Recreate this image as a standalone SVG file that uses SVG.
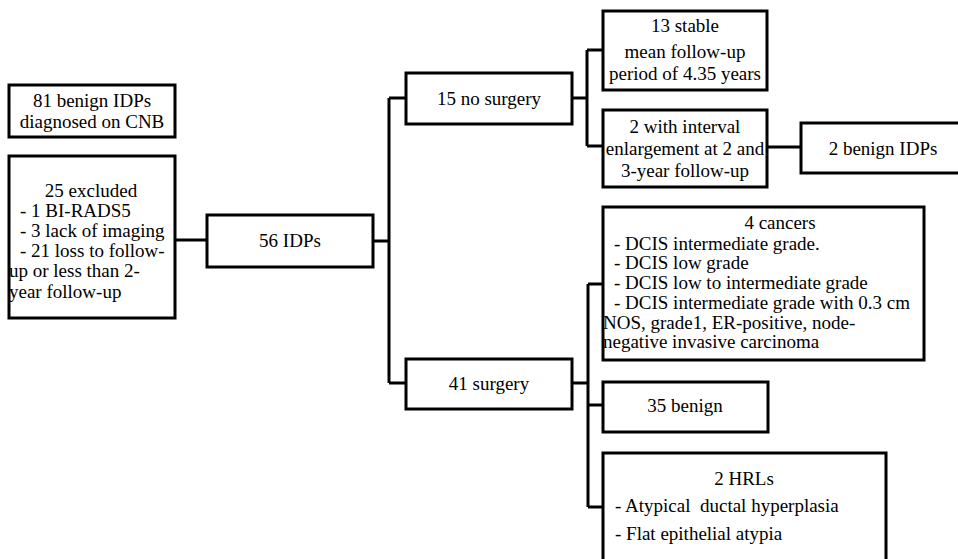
<svg xmlns="http://www.w3.org/2000/svg" width="958" height="559" viewBox="0 0 958 559">
<style>
.box{fill:#fff;stroke:#000;stroke-width:3}
.ln{fill:none;stroke:#000;stroke-width:3}
.t{font-family:'Liberation Serif','DejaVu Serif',serif;font-size:19px;fill:#000}
.c{text-anchor:middle}
</style>
<rect width="958" height="559" fill="#fff"/>
<g id="connectors">
<path class="ln" d="M175,240 H207"/>
<path class="ln" d="M373,241 H389 M389,98 V383 M389,98 H406 M389,383 H406"/>
<path class="ln" d="M572,98 H587 M587,50 V146 M587,50 H603 M587,146 H603"/>
<path class="ln" d="M767,147 H801"/>
<path class="ln" d="M572,383 H588 M588,284 V507 M588,284 H603 M588,405 H603 M588,507 H603"/>
</g>
<g class="t">
<g id="n81">
<rect class="box" x="9" y="85" width="166" height="52"/>
<text class="c" x="92" y="107">81 benign IDPs</text>
<text class="c" x="92" y="128">diagnosed on CNB</text>
</g>
<g id="excluded">
<rect class="box" x="9" y="156" width="166" height="162"/>
<text class="c" x="91" y="197">25 excluded</text>
<text x="20" y="217">- 1 BI-RADS5</text>
<text x="20" y="237">- 3 lack of imaging</text>
<text x="20" y="257">- 21 loss to follow-</text>
<text x="9" y="277">up or less than 2-</text>
<text x="9" y="298">year follow-up</text>
</g>
<g id="n56">
<rect class="box" x="207" y="215" width="166" height="52"/>
<text class="c" x="290" y="247">56 IDPs</text>
</g>
<g id="nosurgery">
<rect class="box" x="406" y="73" width="166" height="51"/>
<text class="c" x="489" y="105">15 no surgery</text>
</g>
<g id="surgery">
<rect class="box" x="406" y="359" width="166" height="50"/>
<text class="c" x="489" y="390">41 surgery</text>
</g>
<g id="stable">
<rect class="box" x="603" y="11" width="164" height="79"/>
<text class="c" x="685" y="32">13 stable</text>
<text class="c" x="685" y="58">mean follow-up</text>
<text class="c" x="685" y="80">period of 4.35 years</text>
</g>
<g id="enlarge">
<rect class="box" x="603" y="110" width="164" height="77"/>
<text class="c" x="685" y="133">2 with interval</text>
<text class="c" x="685" y="155">enlargement at 2 and</text>
<text class="c" x="685" y="177">3-year follow-up</text>
</g>
<g id="benign2">
<rect class="box" x="801" y="123" width="160" height="50"/>
<text class="c" x="883" y="155">2 benign IDPs</text>
</g>
<g id="cancers">
<rect class="box" x="603" y="207" width="321" height="153"/>
<text class="c" x="780" y="229">4 cancers</text>
<text x="614" y="250">- DCIS intermediate grade.</text>
<text x="614" y="269">- DCIS low grade</text>
<text x="614" y="289">- DCIS low to intermediate grade</text>
<text x="614" y="309">- DCIS intermediate grade with 0.3 cm</text>
<text x="603" y="329">NOS, grade1, ER-positive, node-</text>
<text x="603" y="348">negative invasive carcinoma</text>
</g>
<g id="benign35">
<rect class="box" x="603" y="382" width="165" height="50"/>
<text class="c" x="685" y="412">35 benign</text>
</g>
<g id="hrl">
<rect class="box" x="603" y="453" width="283" height="110"/>
<text class="c" x="744" y="485">2 HRLs</text>
<text x="615" y="512">- Atypical&#160; ductal hyperplasia</text>
<text x="615" y="540">- Flat epithelial atypia</text>
</g>
</g>
</svg>
